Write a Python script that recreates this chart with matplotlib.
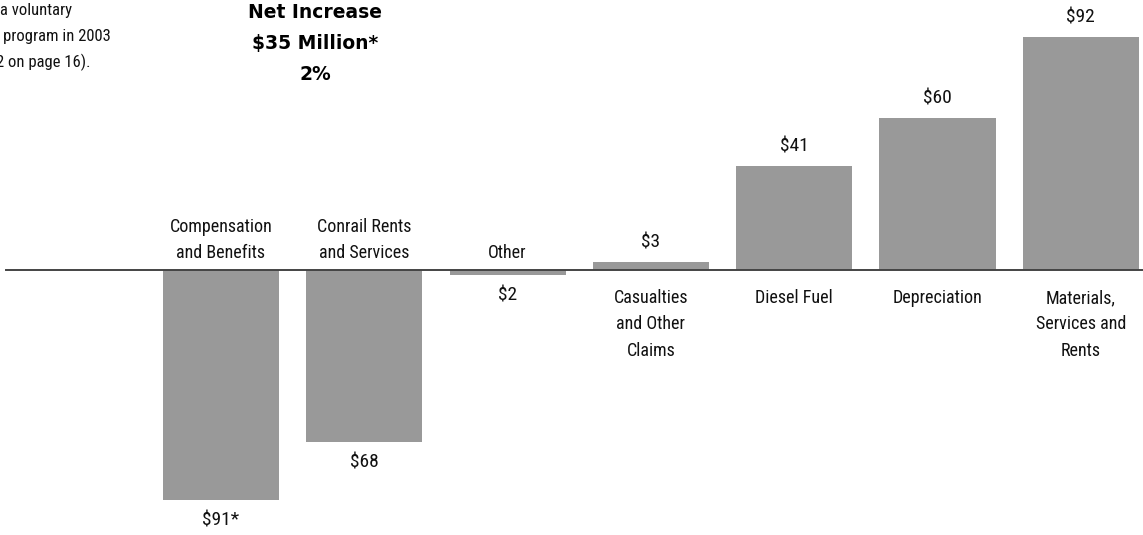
import matplotlib.pyplot as plt
from matplotlib import font_manager

# expense changes, 2003 vs 2002 ($ millions)
categories = ['Compensation\nand Benefits', 'Conrail Rents\nand Services', 'Other',
              'Casualties\nand Other\nClaims', 'Diesel Fuel', 'Depreciation',
              'Materials,\nServices and\nRents']
changes = [-91, -68, -2, 3, 41, 60, 92]
footnote_marks = ['*', '', '', '', '', '', '']

title_lines = ['Net Increase', '$35 Million*', '2%']
note_lines = ['a voluntary', 'program in 2003', '2 on page 16).']

BAR_COLOR = '#999999'
TEXT_COLOR = '#111111'

# narrow face for the labels if one is around
fonts = font_manager.fontManager.ttflist
label_font = dict(family='DejaVu Sans', stretch='normal')
for cand in ['Liberation Sans Narrow', 'Roboto Condensed', 'Open Sans Condensed']:
    if any(f.name == cand for f in fonts):
        label_font = dict(family=cand, stretch='normal')
        break
else:
    if any(f.name == 'DejaVu Sans' and f.stretch == 'condensed' for f in fonts):
        label_font = dict(family='DejaVu Sans', stretch='condensed')

W, H = 1143, 535
fig = plt.figure(figsize=(W / 100, H / 100), dpi=100)
ax = fig.add_axes([0, 0, 1, 1])

# 143.3 px between bars, 2.53 px per $1M, baseline 270 px from the top
step, scale, base_y, first_x = 143.3, 2.53, 270, 221
ax.set_xlim(-first_x / step, (W - first_x) / step)
ax.set_ylim(-(H - base_y) / scale, base_y / scale)
ax.axis('off')

xs = range(len(changes))
ax.bar(xs, changes, width=0.81, color=BAR_COLOR, zorder=2)
ax.axhline(0, xmin=6 / W, xmax=1, color='#444444', lw=1.4, zorder=3)

cat_txt = dict(fontsize=13, color=TEXT_COLOR, linespacing=1.6, **label_font)
val_txt = dict(fontsize=14, color=TEXT_COLOR, **label_font)
px = 1 / scale  # one pixel in data units
for x, v, cat, mark in zip(xs, changes, categories, footnote_marks):
    val = f'${abs(v)}{mark}'
    if v < 0:
        ax.text(x, 8 * px, cat, ha='center', va='bottom', **cat_txt)
        ax.text(x, v - 11 * px, val, ha='center', va='top', **val_txt)
    else:
        ax.text(x, -19 * px, cat, ha='center', va='top', **cat_txt)
        ax.text(x, v + 11 * px, val, ha='center', va='bottom', **val_txt)

# headline
for i, line in enumerate(title_lines):
    fig.text(315 / W, 1 - (13 + 31 * i) / H, line, ha='center', va='center',
             fontsize=13.5, fontweight='bold', color='black')

# tail end of the footnote text, running off the left edge
note_x = [0, 3, -4]
for i, (line, nx) in enumerate(zip(note_lines, note_x)):
    fig.text(nx / W, 1 - (11 + 25.5 * i) / H, line, ha='left', va='center',
             fontsize=12, color=TEXT_COLOR, **label_font)

fig.savefig('out.png', dpi=100)
